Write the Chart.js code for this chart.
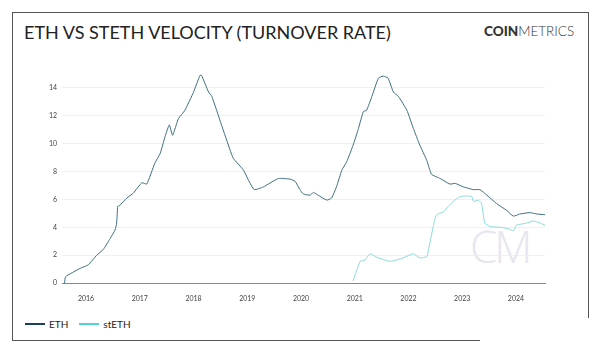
<!DOCTYPE html>
<html>
<head>
<meta charset="utf-8">
<script src="https://cdn.jsdelivr.net/npm/chart.js@4.4.1/dist/chart.umd.min.js"></script>
<style>
  html, body { margin:0; padding:0; background:#fff; }
  #wrap { position:relative; width:600px; height:353px; overflow:hidden; font-family: Lato, "Open Sans", sans-serif; }
  #frame { position:absolute; left:12px; top:12px; width:575px; height:327px; border:1px solid #555; box-sizing:content-box; }
  #title { position:absolute; left:24px; top:21px; font-size:18px; color:#222; letter-spacing:0px; white-space:nowrap; }
  #logo { position:absolute; left:484px; top:23px; font-size:13.5px; color:#333; letter-spacing:0px; white-space:nowrap; }
  #logo b { font-weight:900; }
  #logo span { font-weight:300; }
  #legend { position:absolute; left:25px; top:318px; font-size:10px; color:#222; white-space:nowrap; }
  .sw { display:inline-block; width:20px; height:2px; vertical-align:middle; margin-right:4px; position:relative; top:-1px; }
  #wm { position:absolute; left:470px; top:216px; font-size:44px; color:#e6e6ee; font-family:"Open Sans", sans-serif; font-weight:300; letter-spacing:-3px; }
  #blob { position:absolute; left:480px; top:318px; width:120px; height:35px; background:#fff; }
  canvas { position:absolute; left:0; top:0; }
</style>
</head>
<body>
<div id="wrap">
  <div id="frame"></div>
  <div id="blob"></div>
  <div id="title">ETH VS STETH VELOCITY (TURNOVER RATE)</div>
  <div id="logo"><b>COIN</b><span>METRICS</span></div>
  <div id="wm">CM</div>
  <div id="legend"><span class="sw" style="background:#1d3f5e"></span>ETH<span style="display:inline-block;width:11px"></span><span class="sw" style="background:#4fd3d6"></span>stETH</div>
  <canvas id="c" width="600" height="353"></canvas>
</div>
<script>
const yearTicks = [2016, 2017, 2018, 2019, 2020, 2021, 2022, 2023, 2024];
const valueTicks = [0, 2, 4, 6, 8, 10, 12, 14];

const ethYears = [2015.60, 2015.62, 2015.89, 2016.04, 2016.20, 2016.32, 2016.45, 2016.54, 2016.57, 2016.59, 2016.62, 2016.76, 2016.88, 2017.04, 2017.13, 2017.28, 2017.38, 2017.47, 2017.55, 2017.61, 2017.72, 2017.84, 2018.00, 2018.12, 2018.15, 2018.28, 2018.34, 2018.52, 2018.68, 2018.74, 2018.93, 2019.02, 2019.13, 2019.30, 2019.58, 2019.80, 2019.89, 2019.98, 2020.04, 2020.17, 2020.23, 2020.32, 2020.48, 2020.57, 2020.66, 2020.76, 2020.85, 2020.97, 2021.07, 2021.16, 2021.22, 2021.32, 2021.44, 2021.53, 2021.62, 2021.72, 2021.81, 2021.97, 2022.09, 2022.21, 2022.34, 2022.43, 2022.59, 2022.77, 2022.87, 2023.02, 2023.21, 2023.33, 2023.46, 2023.64, 2023.83, 2023.95, 2024.07, 2024.26, 2024.39, 2024.54];
const ethValues = [0.0, 0.45, 1.05, 1.3, 2.0, 2.4, 3.2, 3.8, 4.3, 5.5, 5.55, 6.1, 6.45, 7.2, 7.1, 8.6, 9.3, 10.5, 11.35, 10.6, 11.8, 12.4, 13.7, 14.9, 14.9, 13.7, 13.4, 11.35, 9.55, 8.95, 8.1, 7.4, 6.7, 6.9, 7.5, 7.45, 7.3, 6.7, 6.4, 6.3, 6.5, 6.3, 5.95, 6.1, 6.9, 8.1, 8.7, 9.9, 11.1, 12.3, 12.4, 13.4, 14.7, 14.85, 14.7, 13.7, 13.4, 12.4, 11.1, 9.9, 8.8, 7.8, 7.5, 7.1, 7.15, 6.9, 6.7, 6.7, 6.3, 5.7, 5.2, 4.8, 4.95, 5.05, 4.95, 4.9];

const stethYears = [2020.97, 2021.04, 2021.10, 2021.19, 2021.28, 2021.41, 2021.66, 2021.90, 2022.09, 2022.21, 2022.34, 2022.41, 2022.46, 2022.52, 2022.65, 2022.74, 2022.83, 2022.96, 2023.08, 2023.18, 2023.21, 2023.30, 2023.36, 2023.42, 2023.52, 2023.70, 2023.86, 2023.95, 2024.01, 2024.20, 2024.32, 2024.45, 2024.54];
const stethValues = [0.15, 0.95, 1.55, 1.65, 2.1, 1.85, 1.55, 1.8, 2.1, 1.8, 1.9, 3.1, 4.05, 4.9, 5.1, 5.5, 5.85, 6.2, 6.25, 6.2, 5.85, 5.95, 5.7, 4.3, 4.05, 4.0, 3.9, 3.75, 4.15, 4.3, 4.45, 4.3, 4.15];

const xMin = 2015.553, xMax = 2024.54;
const yMin = 0, yMax = 15;

const toPts = (xs, ys) => xs.map((x, i) => ({ x: x, y: ys[i] }));

new Chart(document.getElementById('c'), {
  type: 'line',
  data: {
    datasets: [
      { label: 'ETH', data: toPts(ethYears, ethValues), borderColor: '#3f6f80', borderWidth: 1, pointRadius: 0, tension: 0.15, fill: false },
      { label: 'stETH', data: toPts(stethYears, stethValues), borderColor: '#8adada', borderWidth: 1, pointRadius: 0, tension: 0.15, fill: false }
    ]
  },
  options: {
    responsive: false,
    animation: false,
    layout: { padding: { left: 0, right: 55, top: 74, bottom: 50 } },
    plugins: { legend: { display: false }, tooltip: { enabled: false } },
    scales: {
      x: {
        type: 'linear', min: xMin, max: xMax,
        afterBuildTicks: (s) => { s.ticks = yearTicks.map(v => ({ value: v })); },
        afterFit: (s) => { s.height = 20; },
        grid: { display: false },
        border: { display: true, color: '#888', width: 1 },
        ticks: { color: '#444', font: { size: 7, family: 'Lato' }, padding: 4, maxRotation: 0, callback: (v) => String(v) }
      },
      y: {
        min: yMin, max: yMax,
        afterBuildTicks: (s) => { s.ticks = valueTicks.map(v => ({ value: v })); },
        afterFit: (s) => { s.width = 62; },
        grid: { color: '#ececec', drawTicks: false, lineWidth: 0.8 },
        border: { display: false },
        ticks: { color: '#444', font: { size: 7, family: 'Lato' }, padding: 5 }
      }
    }
  }
});
</script>
</body>
</html>
